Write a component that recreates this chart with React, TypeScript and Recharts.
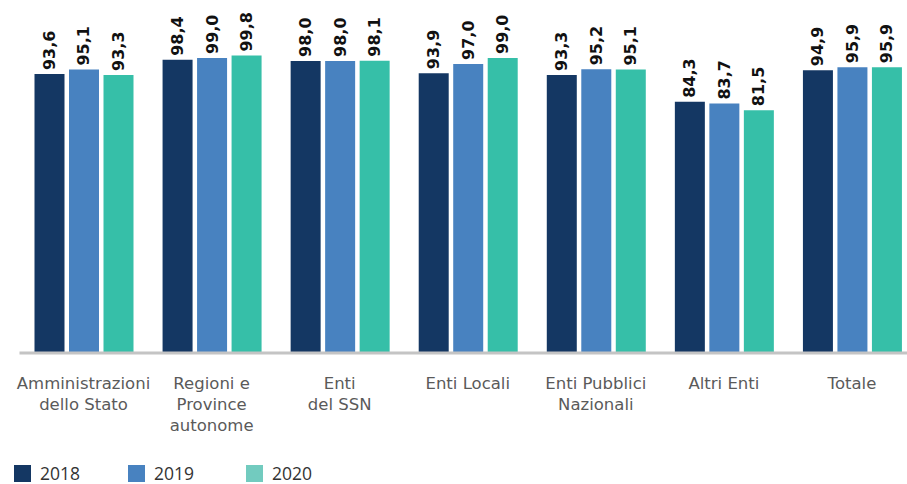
import { BarChart, Bar, XAxis, YAxis, LabelList } from 'recharts';

const categories = [
  'Amministrazioni\ndello Stato',
  'Regioni e\nProvince\nautonome',
  'Enti\ndel SSN',
  'Enti Locali',
  'Enti Pubblici\nNazionali',
  'Altri Enti',
  'Totale',
];
const values2018 = [93.6, 98.4, 98.0, 93.9, 93.3, 84.3, 94.9];
const values2019 = [95.1, 99.0, 98.0, 97.0, 95.2, 83.7, 95.9];
const values2020 = [93.3, 99.8, 98.1, 99.0, 95.1, 81.5, 95.9];

const series = [
  { key: 'y2018', name: '2018', color: '#143763', legend: '#143763' },
  { key: 'y2019', name: '2019', color: '#4882c0', legend: '#4882c0' },
  { key: 'y2020', name: '2020', color: '#36bfa8', legend: '#72cbbf' },
];

const data = categories.map((c, i) => ({
  name: c,
  y2018: values2018[i],
  y2019: values2019[i],
  y2020: values2020[i],
}));

const fmt = (v: number) => v.toFixed(1).replace('.', ',');

function CategoryTick({ x, y, payload }: any) {
  const lines = String(payload.value).split('\n');
  return (
    <text x={x} y={y} textAnchor="middle" fill="#5a5a5a" fontSize={16.5} fontFamily="'DejaVu Sans', sans-serif">
      {lines.map((l, i) => (
        <tspan key={i} x={x} dy={i === 0 ? 28 : 21}>
          {l}
        </tspan>
      ))}
    </text>
  );
}

function ValueLabel({ x, y, width, value }: any) {
  const cx = x + width / 2;
  const ty = y - 4;
  return (
    <text
      x={cx}
      y={ty}
      transform={`rotate(-90 ${cx} ${ty})`}
      dominantBaseline="central"
      fill="#111"
      fontSize={16}
      fontWeight="bold"
      fontFamily="'DejaVu Sans', sans-serif"
    >
      {fmt(value)}
    </text>
  );
}

export default function App() {
  return (
    <div style={{ position: 'absolute', left: 0, top: 0, width: 907, height: 484, overflow: 'hidden', background: '#fff' }}>
      <BarChart
        width={916}
        height={484}
        data={data}
        margin={{ top: 55, right: 0, left: 19.5, bottom: 0 }}
        barCategoryGap={14.5}
        barGap={4.5}
      >
        <YAxis hide domain={[0, 100]} />
        <XAxis
          dataKey="name"
          height={131}
          interval={0}
          tickLine={false}
          axisLine={{ stroke: '#c4c4c4', strokeWidth: 3 }}
          tick={<CategoryTick />}
        />
        {series.map((s) => (
          <Bar key={s.key} dataKey={s.key} name={s.name} fill={s.color} barSize={30} isAnimationActive={false}>
            <LabelList dataKey={s.key} content={<ValueLabel />} />
          </Bar>
        ))}
      </BarChart>
      <div style={{ position: 'absolute', left: 14, top: 464, display: 'flex', fontFamily: "'Open Sans', sans-serif", fontSize: 17.5, color: '#333' }}>
        {series.map((s, i) => (
          <div key={s.key} style={{ display: 'flex', alignItems: 'center', height: 18, width: i === 0 ? 114 : 118 }}>
            <span style={{ width: 17, height: 17, background: s.legend, display: 'inline-block', marginRight: 9 }} />
            <span style={{ lineHeight: '18px' }}>{s.name}</span>
          </div>
        ))}
      </div>
    </div>
  );
}
